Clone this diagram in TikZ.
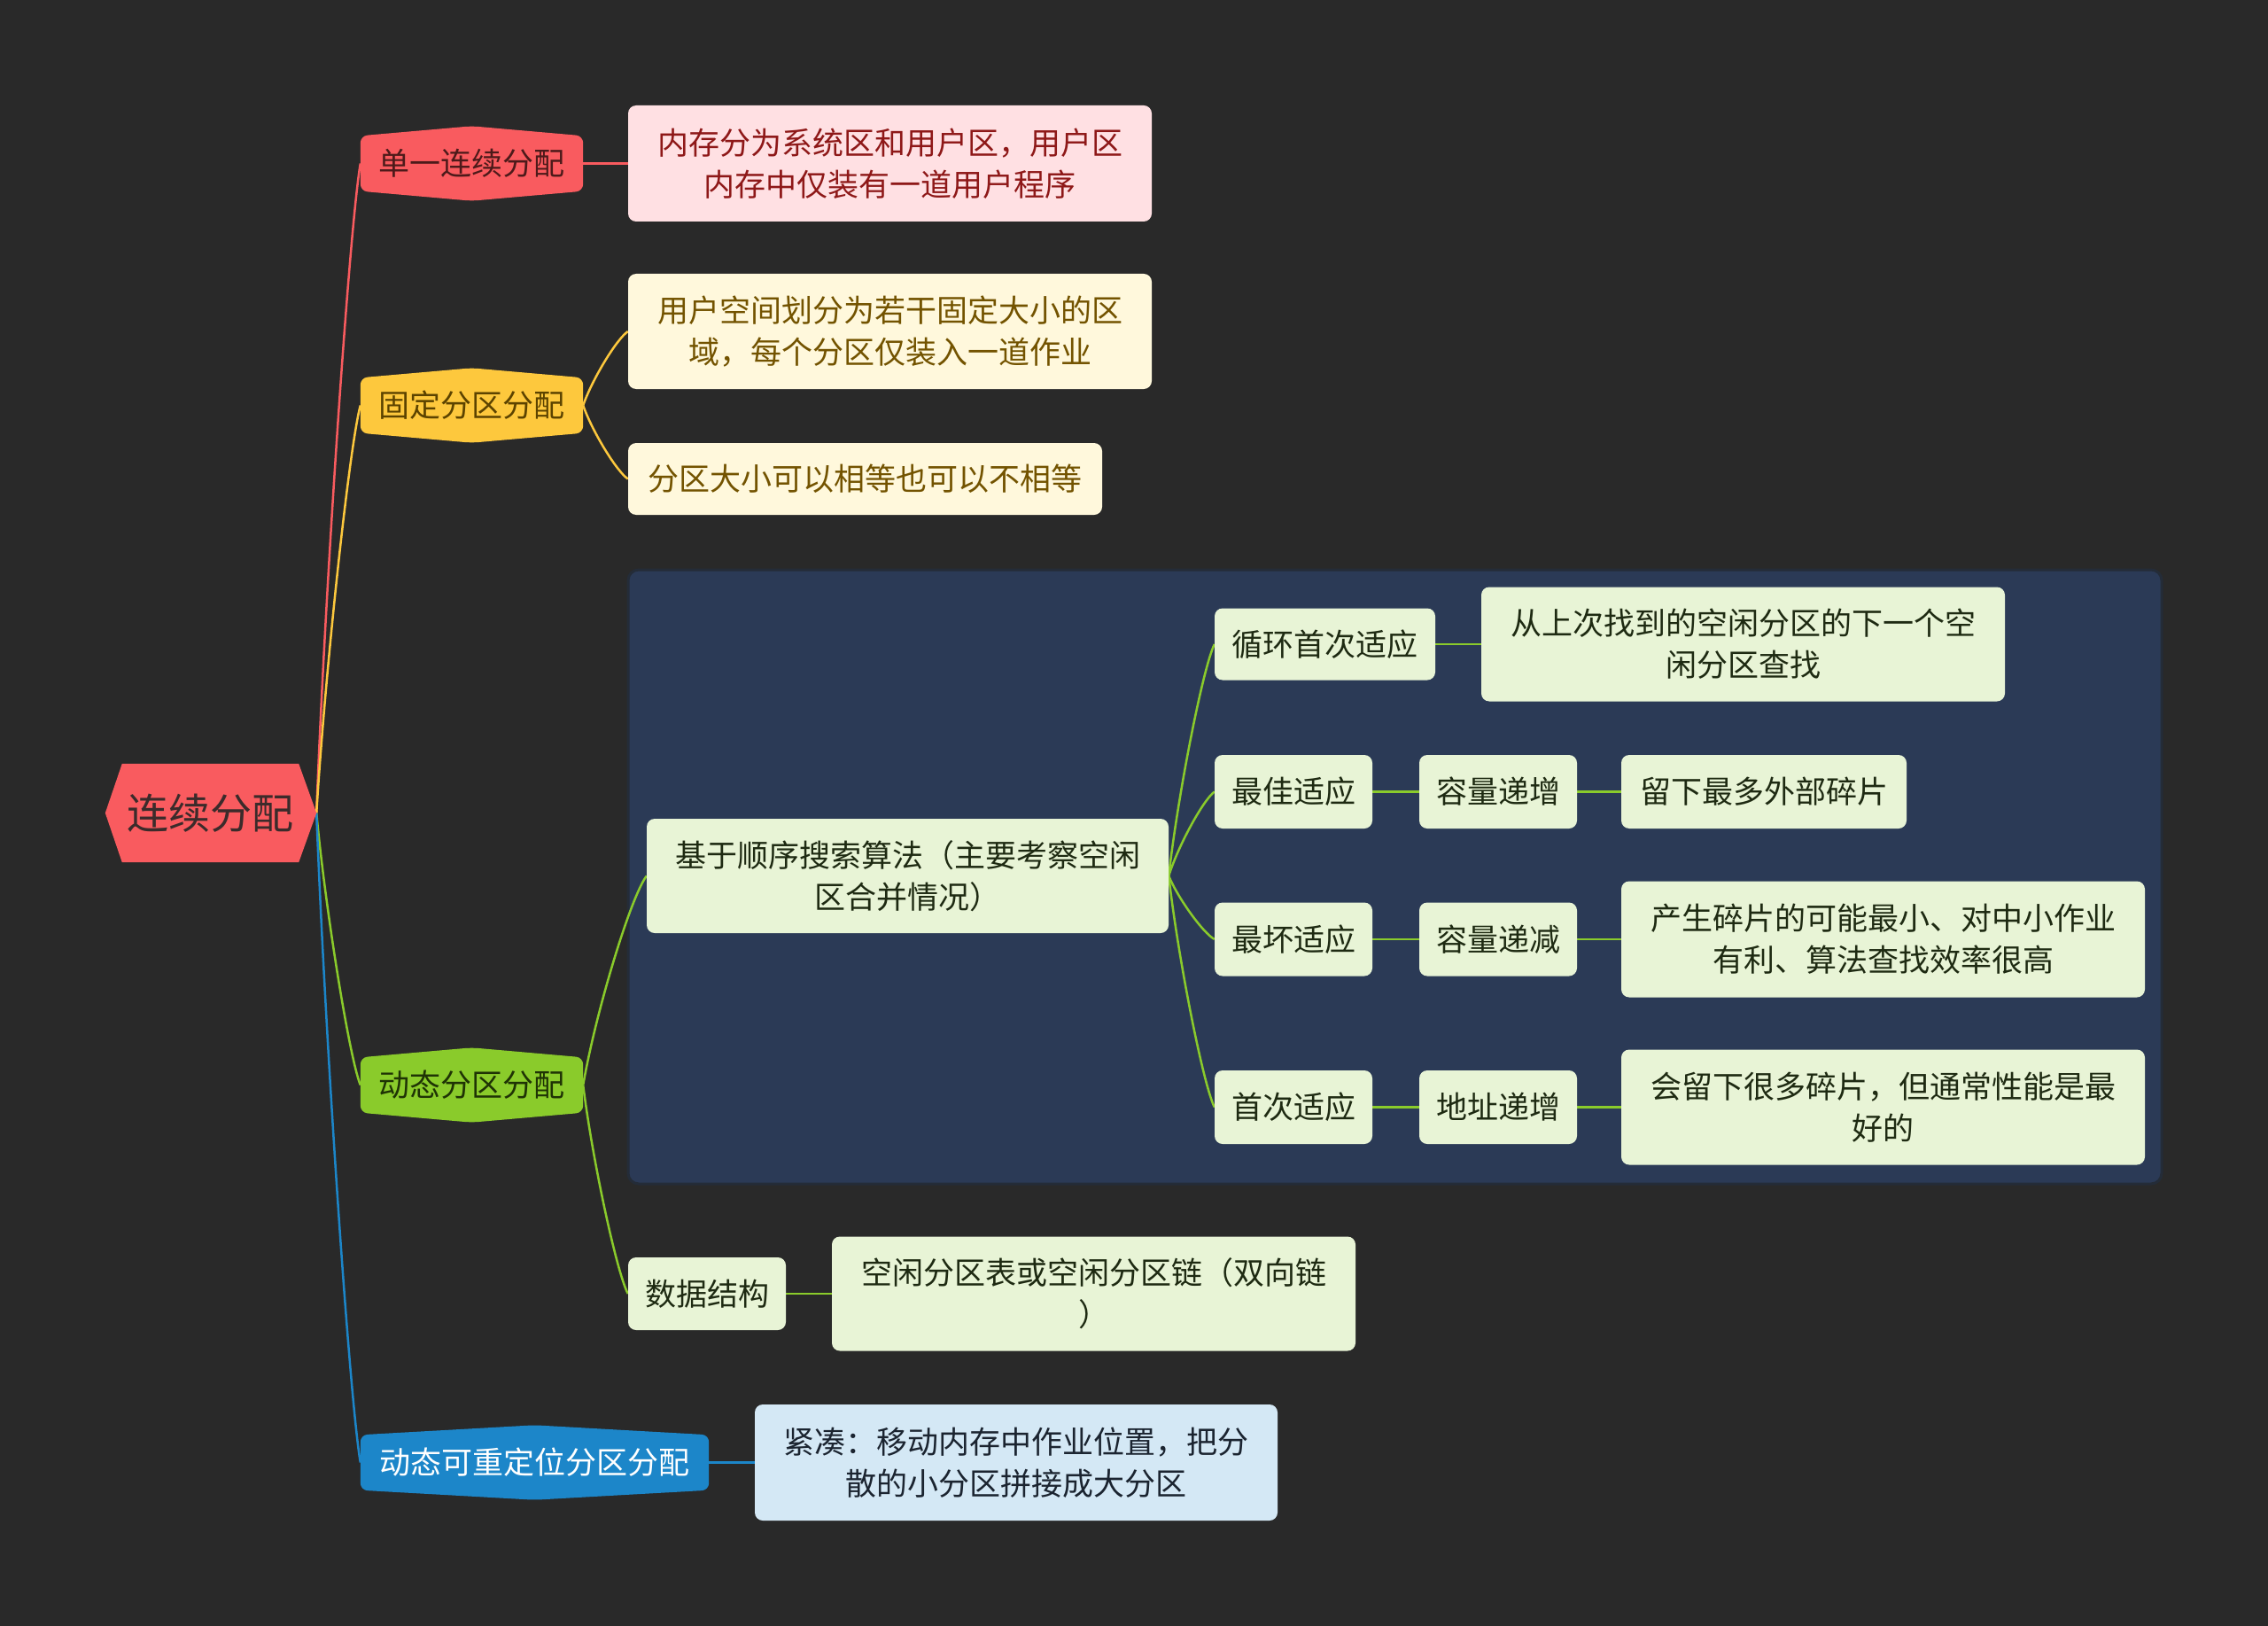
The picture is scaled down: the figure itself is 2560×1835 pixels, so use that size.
\documentclass[tikz,border=0pt]{standalone}
\usepackage{fontspec}
\setmainfont{Noto Sans CJK SC}
\usetikzlibrary{calc}
\pgfdeclarelayer{back}
\pgfdeclarelayer{bg}
\pgfsetlayers{back,bg,main}
\definecolor{bgc}{HTML}{292929}
\definecolor{redc}{HTML}{F95B5F}
\definecolor{yelc}{HTML}{FDC83D}
\definecolor{grnc}{HTML}{8ACB2B}
\definecolor{bluc}{HTML}{1C86C9}
\definecolor{roott}{HTML}{3B2B2B}
\definecolor{redt}{HTML}{4D1A1A}
\definecolor{yelt}{HTML}{5C4300}
\definecolor{grnt}{HTML}{1F3305}
\definecolor{pinkf}{HTML}{FFE0E3}
\definecolor{pinkt}{HTML}{8E1818}
\definecolor{creamf}{HTML}{FFF8DC}
\definecolor{creamt}{HTML}{735300}
\definecolor{lgf}{HTML}{E8F4D6}
\definecolor{lgt}{HTML}{1E2A12}
\definecolor{lbf}{HTML}{D4E8F5}
\definecolor{lbt}{HTML}{1B2430}
\definecolor{contf}{HTML}{2B3A56}
\definecolor{contd}{HTML}{242C38}
\begin{document}
\begin{tikzpicture}[x=1pt,y=1pt,
  lbox/.style={rectangle, rounded corners=9pt, inner sep=0pt, align=center, font=\fontsize{35}{47}\selectfont},
  pinkbox/.style={lbox, fill=pinkf, text=pinkt},
  creambox/.style={lbox, fill=creamf, text=creamt},
  greenbox/.style={lbox, fill=lgf, text=lgt},
  bluebox/.style={lbox, fill=lbf, text=lbt},
  lvone/.style={rectangle, inner sep=0pt, minimum height=62pt, align=center, font=\fontsize{35}{47}\selectfont},
  conn/.style={line width=2.5pt},
  curvy/.style={to path={let \p1=(\tikztostart), \p2=(\tikztotarget) in
     .. controls ({\x1+0.2*(\x2-\x1)},{\y1+0.35*(\y2-\y1)}) and ({\x1+0.75*(\x2-\x1)},{\y1+0.9*(\y2-\y1)}) .. (\tikztotarget)}},
]
\begin{pgfonlayer}{back}
  \fill[bgc] (0,0) rectangle (2560,-1835);
\end{pgfonlayer}
\useasboundingbox (0,0) rectangle (2560,-1835);

% root and first level
\node[rectangle, inner sep=0pt, minimum width=199pt, minimum height=111pt, text=roott, font=\fontsize{47}{56}\selectfont] (root) at (237.5,-917.5) {连续分配};
\coordinate (rt) at ($(root.east)+(20,0)$);
\node[lvone, minimum width=251pt, text=redt] (n1) at (532.5,-184.5) {单一连续分配};
\node[lvone, minimum width=251pt, text=yelt] (n2) at (532.5,-457.5) {固定分区分配};
\node[lvone, minimum width=251pt, text=grnt] (n3) at (532.5,-1224.5) {动态分区分配};
\node[lvone, minimum width=393pt, text=white] (n4) at (603.5,-1650.5) {动态可重定位分区分配};

% second level
\node[pinkbox, minimum width=591pt, minimum height=131pt] (p1) at (1004.5,-184.5) {内存分为系统区和用户区，用户区\\内存中仅装有一道用户程序};
\node[creambox, minimum width=591pt, minimum height=130pt] (y1) at (1004.5,-374) {用户空间划分为若干固定大小的区\\域，每个分区仅装入一道作业};
\node[creambox, minimum width=535pt, minimum height=81pt] (y2) at (976.5,-540.5) {分区大小可以相等也可以不相等};

\node[greenbox, minimum width=589pt, minimum height=129pt] (seq) at (1024.5,-988.5) {基于顺序搜索算法（主要考察空闲\\区合并情况）};
\node[greenbox, minimum width=249pt, minimum height=81pt] (xh) at (1495.5,-727) {循环首次适应};
\node[greenbox, minimum width=591pt, minimum height=129pt] (xhd) at (1967.5,-727) {从上次找到的空闲分区的下一个空\\闲分区查找};
\node[greenbox, minimum width=178pt, minimum height=83pt] (zj) at (1460,-893.5) {最佳适应};
\node[greenbox, minimum width=178pt, minimum height=83pt] (zjm) at (1691,-893.5) {容量递增};
\node[greenbox, minimum width=322pt, minimum height=83pt] (zjd) at (1991,-893.5) {留下最多外部碎片};
\node[greenbox, minimum width=178pt, minimum height=83pt] (zh) at (1460,-1060) {最坏适应};
\node[greenbox, minimum width=178pt, minimum height=83pt] (zhm) at (1691,-1060) {容量递减};
\node[greenbox, minimum width=591pt, minimum height=131pt] (zhd) at (2125.5,-1060) {产生碎片的可能最小、对中小作业\\有利、算法查找效率很高};
\node[greenbox, minimum width=178pt, minimum height=83pt] (sc) at (1460,-1249.5) {首次适应};
\node[greenbox, minimum width=178pt, minimum height=83pt] (scm) at (1691,-1249.5) {地址递增};
\node[greenbox, minimum width=591pt, minimum height=130pt] (scd) at (2125.5,-1249.5) {会留下很多碎片，但通常性能是最\\好的};
\node[greenbox, minimum width=178pt, minimum height=82pt] (sj) at (798,-1460) {数据结构};
\node[greenbox, minimum width=591pt, minimum height=129pt] (sjd) at (1234.5,-1460) {空闲分区表或空闲分区链（双向链\\）};
\node[bluebox, minimum width=590pt, minimum height=131pt] (jc) at (1147,-1650.5) {紧凑：移动内存中作业位置，把分\\散的小分区拼接成大分区};

\begin{pgfonlayer}{bg}
  % container
  \node[rectangle, rounded corners=12pt, fill=contf, draw=contd, line width=3pt, minimum width=1731pt, minimum height=693pt] (grp) at (1574.5,-989.5) {};
  % connectors from root
  \draw[conn, redc] (rt) to[curvy] (n1.west);
  \draw[conn, yelc] (rt) to[curvy] (n2.west);
  \draw[conn, grnc] (rt) to[curvy] (n3.west);
  \draw[conn, bluc] (rt) to[curvy] (n4.west);
  % level one to level two
  \draw[conn, redc] (n1.east) -- (p1.west);
  \draw[conn, yelc] (n2.east) to[curvy] (y1.west);
  \draw[conn, yelc] (n2.east) to[curvy] (y2.west);
  \draw[conn, grnc] (n3.east) to[curvy] (seq.west);
  \draw[conn, grnc] (n3.east) to[curvy] (sj.west);
  \draw[conn, bluc] (n4.east) -- (jc.west);
  % inside container
  \draw[conn, grnc] (seq.east) to[curvy] (xh.west);
  \draw[conn, grnc] (seq.east) to[curvy] (zj.west);
  \draw[conn, grnc] (seq.east) to[curvy] (zh.west);
  \draw[conn, grnc] (seq.east) to[curvy] (sc.west);
  \draw[conn, grnc] (xh.east) -- (xhd.west);
  \draw[conn, grnc] (zj.east) -- (zjm.west);
  \draw[conn, grnc] (zjm.east) -- (zjd.west);
  \draw[conn, grnc] (zh.east) -- (zhm.west);
  \draw[conn, grnc] (zhm.east) -- (zhd.west);
  \draw[conn, grnc] (sc.east) -- (scm.west);
  \draw[conn, grnc] (scm.east) -- (scd.west);
  \draw[conn, grnc] (sj.east) -- (sjd.west);
  % shapes of root and first level
  \fill[redc] (root.north west) -- (root.north east) -- (rt) -- (root.south east) -- (root.south west) -- ($(root.west)+(-19,0)$) -- cycle;
  \fill[redc, rounded corners=8pt] (n1.south west) -- (n1.north west) -- ([yshift=11pt]n1.north) -- (n1.north east) -- (n1.south east) -- ([yshift=-11pt]n1.south) -- cycle;
  \fill[yelc, rounded corners=8pt] (n2.south west) -- (n2.north west) -- ([yshift=11pt]n2.north) -- (n2.north east) -- (n2.south east) -- ([yshift=-11pt]n2.south) -- cycle;
  \fill[grnc, rounded corners=8pt] (n3.south west) -- (n3.north west) -- ([yshift=11pt]n3.north) -- (n3.north east) -- (n3.south east) -- ([yshift=-11pt]n3.south) -- cycle;
  \fill[bluc, rounded corners=8pt] (n4.south west) -- (n4.north west) -- ([yshift=11pt]n4.north) -- (n4.north east) -- (n4.south east) -- ([yshift=-11pt]n4.south) -- cycle;
\end{pgfonlayer}
\end{tikzpicture}
\end{document}
